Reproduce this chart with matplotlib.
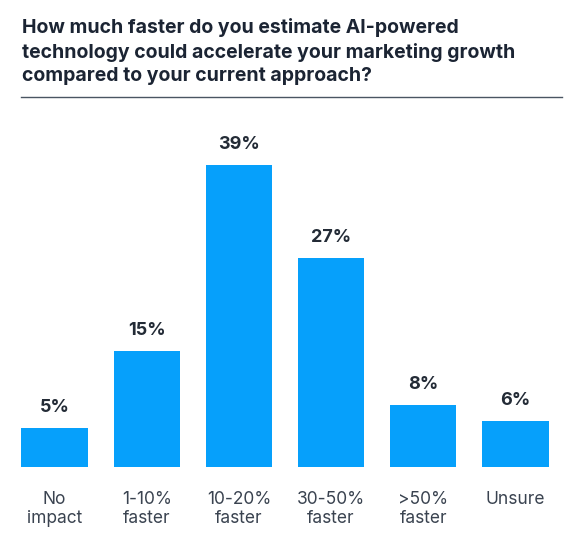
import numpy as np
import matplotlib
matplotlib.use("Agg")
import matplotlib.pyplot as plt

categories = ['No\nimpact', '1-10%\nfaster', '10-20%\nfaster', '30-50%\nfaster', '>50%\nfaster', 'Unsure']
values = [5, 15, 39, 27, 8, 6]
title = ("How much faster do you estimate AI-powered\n"
         "technology could accelerate your marketing growth\n"
         "compared to your current approach?")

plt.rcParams['font.family'] = ['Inter', 'DejaVu Sans']

W, H = 575, 545
fig = plt.figure(figsize=(W / 100, H / 100), dpi=100)

# axes placed in pixel terms
left, right, bottom, top = 8.4, 561.6, 467, 117
ax = fig.add_axes([left / W, 1 - bottom / H, (right - left) / W, (bottom - top) / H])

x = np.arange(len(values))
ax.bar(x, values, width=0.72, color='#06a0fb')
ax.set_xlim(-0.5, len(values) - 0.5)
ax.set_ylim(0, (bottom - top) / 7.74)

for xi, v in zip(x, values):
    ax.annotate(f'{v}%', (xi, v), xytext=(0, 8.5), textcoords='offset points',
                ha='center', va='bottom', fontsize=13, fontweight='bold', color='#232b36')

for xi, lab in zip(x, categories):
    ax.text(xi, -3.1, lab, ha='center', va='top', fontsize=12.5, color='#3a4350',
            linespacing=1.12)

ax.axis('off')

fig.text(22 / W, 1 - 18 / H, title, ha='left', va='top', fontsize=14, fontweight='bold',
         color='#1b2433', linespacing=1.37)
fig.add_artist(plt.Line2D([21 / W, 562 / W], [1 - 97 / H, 1 - 97 / H], color='#4a5562', lw=1))

fig.savefig('out.png', dpi=100)
